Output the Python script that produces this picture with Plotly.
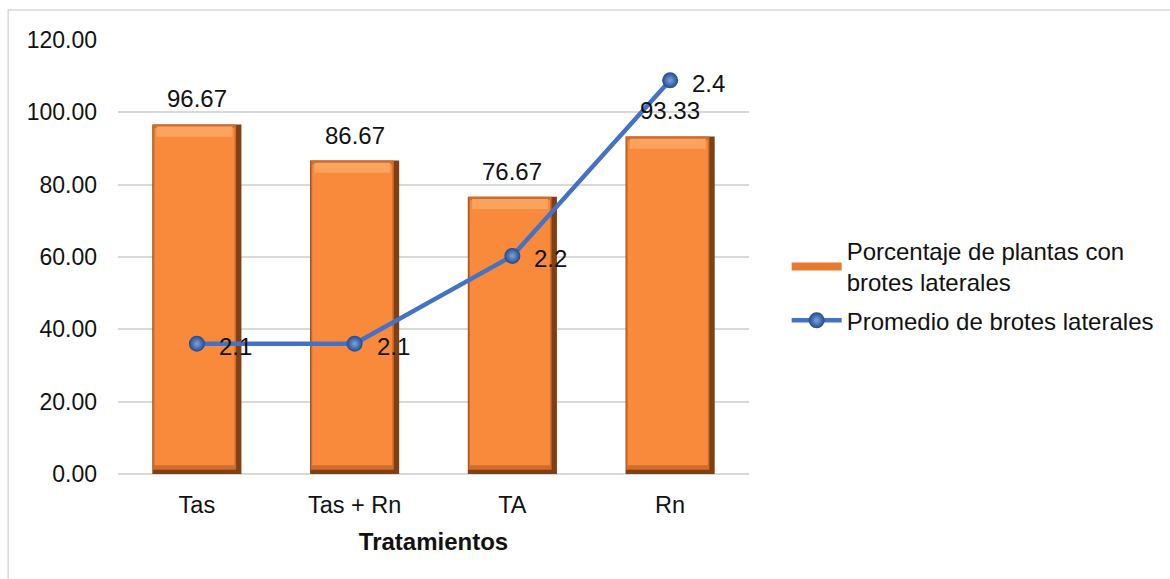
import plotly.graph_objects as go

# Data
tratamientos = ["Tas", "Tas + Rn", "TA", "Rn"]
porcentaje = [96.67, 86.67, 76.67, 93.33]
promedio = [2.1, 2.1, 2.2, 2.4]
y_ticks = [0, 20, 40, 60, 80, 100, 120]

SERIE_BARRAS = "Porcentaje de plantas con<br>brotes laterales"
SERIE_LINEA = "Promedio de brotes laterales"

FONT = "Liberation Sans, Arial, sans-serif"
TXT = "#111111"
BAR_W = 0.565
EDGE = 0.034   # dark right-hand shadow of the bevelled bars

fig = go.Figure()

# Bevelled bars: dark shell, shaded rim, orange face, light top band
fig.add_trace(go.Bar(
    x=tratamientos, y=porcentaje, width=BAR_W, offset=-BAR_W / 2,
    marker=dict(color="#7E4015", line=dict(width=0)),
    legendgroup="barras", showlegend=False, hoverinfo="skip"))
fig.add_trace(go.Bar(
    x=tratamientos, y=[v - 1.2 for v in porcentaje], base=[1.2] * 4,
    width=BAR_W - EDGE - 0.004, offset=-BAR_W / 2 + 0.004,
    marker=dict(color="#D06C2C", line=dict(width=0)),
    legendgroup="barras", showlegend=False, hoverinfo="skip"))
fig.add_trace(go.Bar(
    x=tratamientos, y=[v - 3.4 for v in porcentaje], base=[2.4] * 4,
    width=BAR_W - EDGE - 0.024, offset=-BAR_W / 2 + 0.014,
    marker=dict(color="#F98A3B", line=dict(width=0)),
    name=SERIE_BARRAS, legendgroup="barras", showlegend=False))
fig.add_trace(go.Bar(
    x=tratamientos, y=[2.8] * 4, base=[v - 3.4 for v in porcentaje],
    width=BAR_W - EDGE - 0.05, offset=-BAR_W / 2 + 0.027,
    marker=dict(color="#FBA35F", line=dict(width=0)),
    legendgroup="barras", showlegend=False, hoverinfo="skip"))

# Legend key for the bar series (Excel-style flat swatch)
fig.add_trace(go.Scatter(
    x=[None], y=[None], mode="lines", name=SERIE_BARRAS,
    legendgroup="barras", line=dict(color="#E67A30", width=8)))

# Line series on a hidden secondary axis
fig.add_trace(go.Scatter(
    x=tratamientos, y=promedio, yaxis="y2", mode="lines+markers",
    name=SERIE_LINEA, legendgroup="linea",
    line=dict(color="#4472C4", width=4.5),
    marker=dict(size=16, color="#1F4A8E",
                gradient=dict(type="radial", color="#7FA2DE"),
                line=dict(width=0))))

annotations = []
for cat, v in zip(tratamientos, porcentaje):
    annotations.append(dict(
        x=cat, y=v, xref="x", yref="y", text=f"{v:.2f}", showarrow=False,
        yanchor="bottom", yshift=10, font=dict(family=FONT, size=24, color=TXT)))
for cat, v in zip(tratamientos, promedio):
    annotations.append(dict(
        x=cat, y=v, xref="x", yref="y2", text=f"{v:.1f}", showarrow=False,
        xanchor="left", xshift=20, yshift=-3,
        font=dict(family=FONT, size=24, color=TXT)))

fig.update_layout(
    width=1170, height=579,
    margin=dict(l=118, r=420, t=40, b=105),
    paper_bgcolor="white", plot_bgcolor="white",
    barmode="overlay",
    font=dict(family=FONT, size=24, color=TXT),
    xaxis=dict(
        type="category", showgrid=False, showline=False, zeroline=False,
        ticks="", ticklabelstandoff=14,
        tickfont=dict(family=FONT, size=23.5, color=TXT),
        title=dict(text="<b>Tratamientos</b>", standoff=16,
                   font=dict(family=FONT, size=24, color=TXT))),
    yaxis=dict(
        range=[0, 120], tickvals=y_ticks, tickformat=".2f",
        showgrid=True, gridcolor="#D9D9D9", gridwidth=1.5,
        zeroline=True, zerolinecolor="#D9D9D9", zerolinewidth=1.5,
        showline=False, ticks="", ticklabelstandoff=20,
        tickfont=dict(family=FONT, size=23, color=TXT)),
    yaxis2=dict(
        overlaying="y", side="right", range=[1.9516, 2.4459],
        visible=False, showgrid=False),
    legend=dict(
        x=1.058, y=0.565, xanchor="left", yanchor="top",
        font=dict(family=FONT, size=24, color=TXT),
        bgcolor="rgba(0,0,0,0)", tracegroupgap=4, itemwidth=50),
    annotations=annotations,
    shapes=[dict(type="rect", xref="paper", yref="paper",
                 x0=-0.174, x1=1.9, y0=-0.5, y1=1.069,
                 line=dict(color="#D9D9D9", width=1.5), layer="below")],
)

fig.write_html("out.html")
